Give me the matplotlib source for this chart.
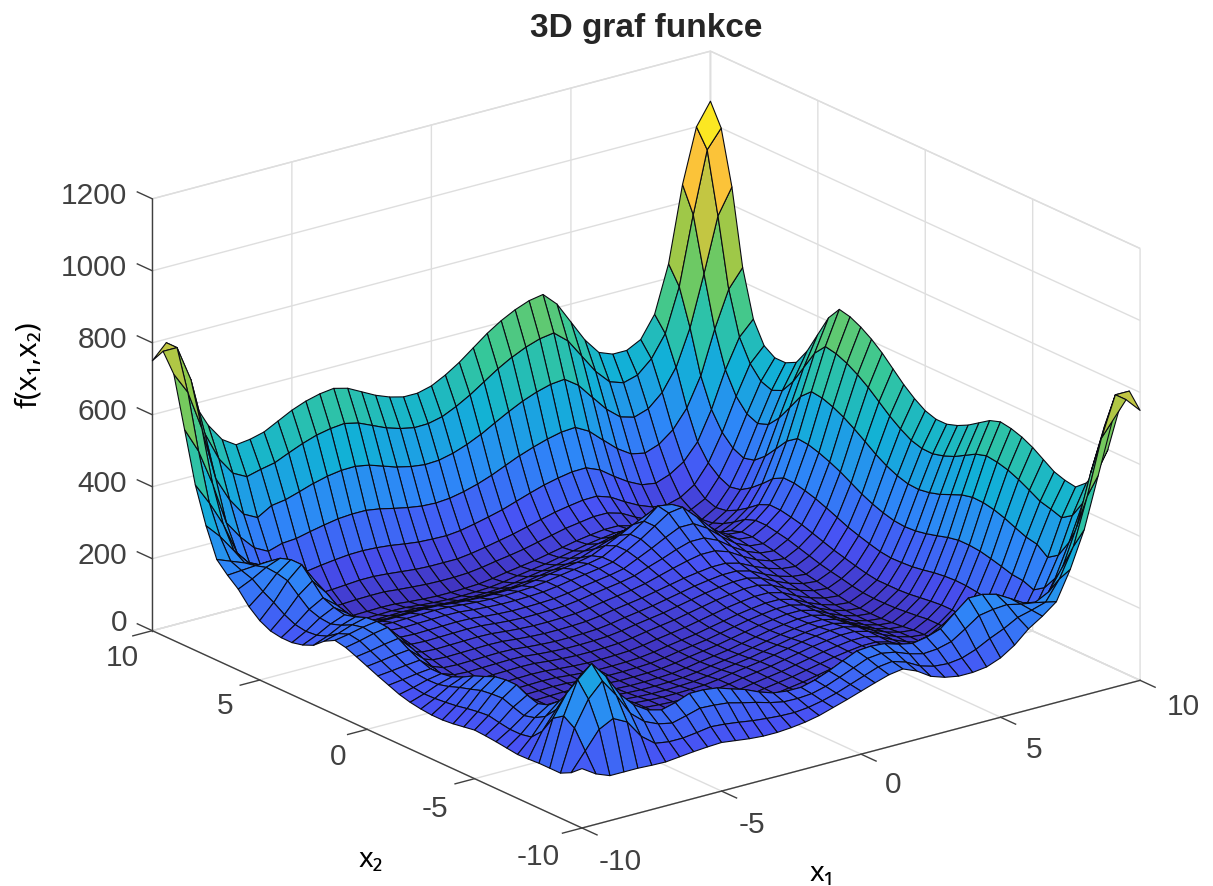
import numpy as np
import matplotlib
matplotlib.use("Agg")
import matplotlib.pyplot as plt
from matplotlib.colors import LinearSegmentedColormap
from mpl_toolkits.mplot3d import proj3d

TITLE = "3D graf funkce"
X_LABEL = "x\u2081"
Y_LABEL = "x\u2082"
Z_LABEL = "f(x\u2081,x\u2082)"
XY_TICKS = [-10, -5, 0, 5, 10]
Z_TICKS = [0, 200, 400, 600, 800, 1000, 1200]
GRID = [-10 + 0.5 * k for k in range(41)]

# surface heights, one list per x2 row, from x1 = x2 up to x1 = 10
z_m10_0 = [165,140,125,125,125,123,122,126,130,133,135,130,125,122,122,125,130,138,150,162,175,188,200,206,190,165,152,145,145,150,165,190,225,250,280,360,460,600,740,790,750]
z_m9_5 = [190,240,260,240,190,160,154,154,159,165,162,157,151,147,144,143,147,155,166,180,194,208,213,201,180,169,166,171,185,205,222,243,253,265,320,400,530,680,790,790]
z_m9_0 = [310,350,300,240,207,190,182,192,203,201,197,187,178,167,159,158,161,171,186,202,218,222,215,200,190,193,203,228,255,262,265,256,250,270,330,430,570,690,720]
z_m8_5 = [385,340,280,240,215,205,215,230,230,225,212,200,183,170,165,165,175,190,208,225,228,225,213,205,212,225,258,290,290,280,258,235,228,240,310,420,530,600]
z_m8_0 = [310,245,195,172,164,172,183,183,179,169,159,147,137,134,134,143,156,170,184,189,189,182,178,185,194,215,233,228,218,201,190,180,190,260,350,450,530]
z_m7_5 = [165,126,116,111,115,121,121,119,112,106,99,94,93,94,101,111,121,131,137,141,142,143,149,154,159,157,147,136,126,110,120,150,220,300,400,480]
z_m7_0 = [70,68,67,68,70,71,70,65,62,58,57,58,60,65,73,80,87,94,101,108,113,118,119,112,97,83,72,66,60,85,130,200,280,380,455]
z_m6_5 = [54,52,53,54,55,54,50,47,45,45,46,48,53,60,66,72,80,88,96,102,107,107,97,78,62,51,47,64,88,138,212,303,390,460]
z_m6_0 = [50,51,52,53,52,48,45,43,43,44,46,51,58,64,70,78,86,94,100,105,105,95,76,60,49,45,62,88,138,215,309,398,470]
z_m5_5 = [52,53,54,53,49,46,44,44,45,47,52,59,65,71,79,87,95,101,106,106,96,77,61,50,46,64,90,144,224,321,415,490]
z_m5_0 = [54,55,54,50,47,45,45,46,48,53,60,66,72,80,88,96,102,107,107,97,78,62,51,47,66,93,149,232,334,431,510]
z_m4_5 = [56,55,51,48,46,46,47,49,54,61,67,73,81,89,97,103,108,108,98,79,63,52,48,67,96,153,239,344,444,525]
z_m4_0 = [54,50,47,45,45,46,48,53,60,66,72,80,88,96,102,107,107,97,78,62,51,47,67,96,154,242,350,452,535]
z_m3_5 = [46,43,41,41,42,44,49,56,62,68,76,84,92,98,103,103,93,74,58,47,43,63,93,152,242,351,456,540]
z_m3_0 = [40,38,38,39,41,46,53,59,65,73,81,89,95,100,100,90,71,55,44,40,60,89,148,236,344,447,530]
z_m2_5 = [36,36,37,39,44,51,57,63,71,79,87,93,98,98,88,69,53,42,38,57,85,142,227,331,430,510]
z_m2_0 = [36,37,39,44,51,57,63,71,79,87,93,98,98,88,69,53,42,38,56,83,137,219,318,413,490]
z_m1_5 = [38,40,45,52,58,64,72,80,88,94,99,99,89,70,54,43,39,56,83,135,213,309,401,475]
z_m1_0 = [42,47,54,60,66,74,82,90,96,101,101,91,72,56,45,41,58,83,134,211,304,393,465]
z_m0_5 = [52,59,65,71,79,87,95,101,106,106,96,77,61,50,46,63,88,138,214,306,394,465]
z_p0_0 = [66,72,78,86,94,102,108,113,113,103,84,68,57,53,70,95,146,222,315,403,475]
z_p0_5 = [78,84,92,100,108,114,119,119,109,90,74,63,59,76,103,155,233,329,421,495]
z_p1_0 = [90,98,106,114,120,125,125,115,96,80,69,65,83,111,165,247,347,443,520]
z_p1_5 = [106,114,122,128,133,133,123,104,88,77,73,92,121,178,264,369,469,550]
z_p2_0 = [125,136,146,154,154,141,118,98,85,81,101,131,191,281,390,495,580]
z_p2_5 = [149,164,176,176,159,131,108,93,89,110,141,203,295,409,517,605]
z_p3_0 = [184,202,202,179,146,117,99,95,116,148,212,307,424,535,625]
z_p3_5 = [228,234,197,158,125,104,100,122,154,219,316,435,548,640]
z_p4_0 = [228,197,158,125,104,100,122,155,220,319,439,554,647]
z_p4_5 = [174,141,112,94,90,111,142,204,298,412,522,610]
z_p5_0 = [113,90,75,71,90,119,176,263,368,469,550]
z_p5_5 = [71,59,55,72,99,151,229,325,416,490]
z_p6_0 = [48,44,60,84,132,204,293,377,445]
z_p6_5 = [40,56,79,126,196,282,364,430]
z_p7_0 = [70,90,140,210,295,375,430]
z_p7_5 = [115,165,240,330,410,450]
z_p8_0 = [210,290,390,470,510]
z_p8_5 = [370,490,590,640]
z_p9_0 = [630,780,850]
z_p9_5 = [950,1000]
z_p10_0 = [1061]

rows = [z_m10_0, z_m9_5, z_m9_0, z_m8_5, z_m8_0, z_m7_5, z_m7_0, z_m6_5, z_m6_0, z_m5_5, z_m5_0,
        z_m4_5, z_m4_0, z_m3_5, z_m3_0, z_m2_5, z_m2_0, z_m1_5, z_m1_0, z_m0_5, z_p0_0, z_p0_5,
        z_p1_0, z_p1_5, z_p2_0, z_p2_5, z_p3_0, z_p3_5, z_p4_0, z_p4_5, z_p5_0, z_p5_5, z_p6_0,
        z_p6_5, z_p7_0, z_p7_5, z_p8_0, z_p8_5, z_p9_0, z_p9_5, z_p10_0]

n = len(GRID)
Z = np.zeros((n, n))
for j, row in enumerate(rows):
    assert len(row) == n - j, (j, len(row), n - j)
    Z[j, j:] = row
    Z[j:, j] = row
X, Y = np.meshgrid(GRID, GRID)

parula = LinearSegmentedColormap.from_list("parula", [
    (0.00, (0.2422, 0.1504, 0.6603)), (0.13, (0.2810, 0.3228, 0.9579)),
    (0.25, (0.1786, 0.5289, 0.9682)), (0.38, (0.0689, 0.6948, 0.8394)),
    (0.50, (0.2161, 0.7843, 0.5923)), (0.63, (0.5300, 0.7900, 0.3000)),
    (0.85, (0.9970, 0.7659, 0.2199)), (1.00, (0.9769, 0.9839, 0.0805))])

W, H = 1213, 886
TICK_COLOR = "#404040"
plt.rcParams["font.family"] = ["Liberation Sans", "DejaVu Sans"]
plt.rcParams["axes.unicode_minus"] = False
fig = plt.figure(figsize=(W / 100, H / 100), dpi=100)
ax = fig.add_axes([0, 0, 1, 1], projection="3d")
ax.set_proj_type("ortho")
ax.view_init(elev=20.4, azim=-127.2)
ax.set_xlim(-10, 10, view_margin=0)
ax.set_ylim(-10, 10, view_margin=0)
ax.set_zlim(0, 1200, view_margin=0)

surf = ax.plot_surface(X, Y, Z, rstride=1, cstride=1, cmap=parula, vmin=0, vmax=Z.max(),
                       edgecolor="#0a0a12", linewidth=0.8, shade=False, antialiased=True)
surf.set_clip_on(False)

ax.set_xticks(XY_TICKS)
ax.set_yticks(XY_TICKS)
ax.set_zticks(Z_TICKS)
ax.set_xticklabels([])
ax.set_yticklabels([])
ax.set_zticklabels([])
for axis in (ax.xaxis, ax.yaxis, ax.zaxis):
    axis.set_pane_color((1, 1, 1, 1))
    axis.pane.set_edgecolor("#dddddd")
    axis.line.set_color(TICK_COLOR)
    axis.line.set_linewidth(1.0)
    axis._axinfo["grid"].update(color="#dedede", linewidth=1.0)
    axis._axinfo["tick"].update(inward_factor=0.0, outward_factor=0.0, linewidth={True: 1.0, False: 0.5}, color=TICK_COLOR)
ax.zaxis.set_ticks_position("upper")


def px(x, y, z):
    xs, ys, _ = proj3d.proj_transform(x, y, z, ax.get_proj())
    return ax.transData.transform((xs, ys))


# place the box so its corners fall on the reference's corners
ASPECT = (701, 711, 461)
ax.set_box_aspect(ASPECT, zoom=1.0)
ax.apply_aspect()
d = px(10, -10, 0) - px(-10, -10, 0)
ax.set_box_aspect(ASPECT, zoom=np.hypot(558, 148) / np.hypot(*d))
ax.apply_aspect()
front = px(-10, -10, 0)
ax.set_position([(582 - front[0]) / W, ((H - 828) - front[1]) / H, 1, 1])
ax.apply_aspect()

# tick marks stay outside the box, as MATLAB draws them
TICK_LEN = 0.7
tick_style = dict(color=TICK_COLOR, linewidth=1.0, clip_on=False, zorder=5)
for t in XY_TICKS:
    ax.plot([t, t], [-10, -10 - TICK_LEN], [0, 0], **tick_style)
    ax.plot([-10, -10 - TICK_LEN], [t, t], [0, 0], **tick_style)
for v in Z_TICKS:
    ax.plot([-10, -10], [10, 10 + TICK_LEN], [v, v], **tick_style)

# tick labels, offset in pixels from their tick on the axis
label_style = dict(fontsize=21.5, color=TICK_COLOR, va="center")
X_OFFSETS = [(38, 34), (30, 34), (32, 31), (34, 33), (43, 27)]
Y_OFFSETS = [(-44, 29), (-40, 30), (-29, 28), (-35, 26), (-30, 27)]
for t, (ox, oy) in zip(XY_TICKS, X_OFFSETS):
    p = px(t, -10, 0)
    fig.text((p[0] + ox) / W, (p[1] - oy) / H, str(t), ha="center", **label_style)
for t, (ox, oy) in zip(XY_TICKS, Y_OFFSETS):
    p = px(-10, t, 0)
    fig.text((p[0] + ox) / W, (p[1] - oy) / H, str(t), ha="center", **label_style)
for v in Z_TICKS:
    p = px(-10, 10, v)
    shift = 8 if v == 0 else 3
    fig.text(127 / W, (p[1] + shift) / H, str(v), ha="right", **label_style)

fig.text(646 / W, 1 - 28 / H, TITLE, ha="center", va="center", fontsize=24, fontweight="bold", color="#262626")
lab = dict(family=["Noto Sans", "DejaVu Sans"], color="black", ha="center", va="center")
fig.text(822 / W, 1 - 874 / H, X_LABEL, fontsize=20, **lab)
fig.text(371 / W, 1 - 860 / H, Y_LABEL, fontsize=20, **lab)
fig.text(29 / W, 1 - 365 / H, Z_LABEL, rotation=90, fontsize=21, **lab)

fig.savefig("out.png", dpi=100)
